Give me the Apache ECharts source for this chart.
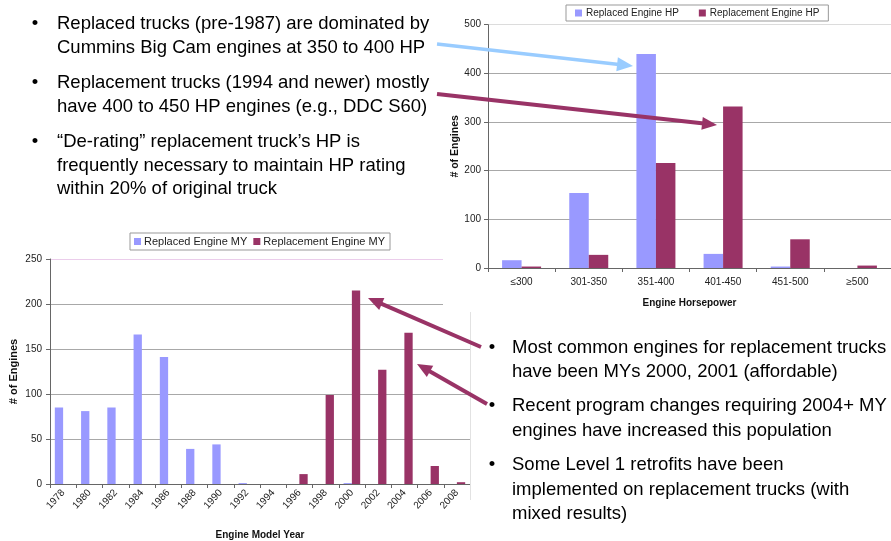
<!DOCTYPE html>
<html>
<head>
<meta charset="utf-8">
<script src="https://cdn.jsdelivr.net/npm/echarts@6/dist/echarts.min.js"></script>
<style>
html,body{margin:0;padding:0;background:#fff;}
#chart{width:891px;height:541px;}
</style>
</head>
<body>
<div id="chart"></div>
<script>
// ---- Data ----
const hpCategories = ['≤300', '301-350', '351-400', '401-450', '451-500', '≥500'];
const replacedHP = [16, 154, 440, 29, 3, 0];
const replacementHP = [3, 27, 216, 332, 59, 5];
const hpTicks = [0, 100, 200, 300, 400, 500];

const yearCategories = ['1978', '1980', '1982', '1984', '1986', '1988', '1990', '1992',
  '1994', '1996', '1998', '2000', '2002', '2004', '2006', '2008'];
const replacedMY = [85, 81, 85, 166, 141, 39, 44, 1, 0, 0, 0, 1, 0, 0, 0, 0];
const replacementMY = [0, 0, 0, 0, 0, 0, 0, 0, 0, 11, 99, 215, 127, 168, 20, 2];
const myTicks = [0, 50, 100, 150, 200, 250];

const bulletsTop = [
  ['Replaced trucks (pre-1987) are dominated by', 'Cummins Big Cam engines at 350 to 400 HP'],
  ['Replacement trucks (1994 and newer) mostly', 'have 400 to 450 HP engines (e.g., DDC S60)'],
  ['\u201cDe-rating\u201d replacement truck\u2019s HP is', 'frequently necessary to maintain HP rating', 'within 20% of original truck']
];
const bulletsBottom = [
  ['Most common engines for replacement trucks', 'have been MYs 2000, 2001 (affordable)'],
  ['Recent program changes requiring 2004+ MY', 'engines have increased this population'],
  ['Some Level 1 retrofits have been', 'implemented on replacement trucks (with', 'mixed results)']
];

// ---- Styles ----
const FONT = '"Liberation Sans", Arial, Helvetica, sans-serif';
const BLUE = '#9999FF';
const MAROON = '#993366';
const GRID = '#a8a8a8';

const chart = echarts.init(document.getElementById('chart'), null, {renderer: 'canvas'});

function arrow(x1, y1, x2, y2, color, w, hl, hw) {
  const dx = x2 - x1, dy = y2 - y1, L = Math.hypot(dx, dy);
  const ux = dx / L, uy = dy / L;
  const bx = x2 - ux * hl, by = y2 - uy * hl;
  const px = -uy, py = ux;
  return [
    {type: 'line', z: 20, shape: {x1: x1, y1: y1, x2: bx + ux * 2, y2: by + uy * 2},
      style: {stroke: color, lineWidth: w}},
    {type: 'polygon', z: 20, shape: {points: [[x2, y2], [bx + px * hw / 2, by + py * hw / 2], [bx - px * hw / 2, by - py * hw / 2]]},
      style: {fill: color}}
  ];
}

function bulletBlock(blocks, bx, tx, ys) {
  const els = [];
  let k = 0;
  blocks.forEach(lines => {
    lines.forEach((ln, i) => {
      const y = ys[k++];
      if (i === 0) {
        els.push({type: 'text', z: 20, x: bx, y: y,
          style: {text: '\u2022', font: '18.5px ' + FONT, fill: '#000', align: 'center', verticalAlign: 'middle'}});
      }
      els.push({type: 'text', z: 20, x: tx, y: y,
        style: {text: ln, font: '18.5px ' + FONT, fill: '#000', align: 'left', verticalAlign: 'middle'}});
    });
  });
  return els;
}

const graphics = [
  // background panel of the top chart (covers the lower chart's gridlines)
  {type: 'rect', z: 1, shape: {x: 443, y: 0, width: 448, height: 312}, style: {fill: '#fff'}},
  // right border of the lower chart
  {type: 'line', z: 1, shape: {x1: 470.5, y1: 312, x2: 470.5, y2: 500}, style: {stroke: '#e2e2e2', lineWidth: 1}},
  ...bulletBlock(bulletsTop, 35, 57, [24, 48, 83, 107, 142, 166, 189]),
  ...bulletBlock(bulletsBottom, 492, 512, [348, 372, 406, 431, 465, 490, 514]),
  ...arrow(437, 44, 633, 66, '#99CCFF', 3.5, 16, 14),
  ...arrow(437, 94, 717, 125, MAROON, 4, 15, 13),
  ...arrow(481, 347, 368, 298, MAROON, 4, 15, 13),
  ...arrow(487, 404, 417, 364, MAROON, 4, 15, 13)
];

const axisLabelStyle = {color: '#222', fontFamily: FONT, fontSize: 10};
const nameStyle = {color: '#111', fontFamily: FONT, fontSize: 10, fontWeight: 'bold'};

const option = {
  animation: false,
  backgroundColor: '#fff',
  textStyle: {fontFamily: FONT},
  grid: [
    {left: 488, right: -7, top: 24.7, bottom: 273, containLabel: false},
    {left: 50, right: 421, top: 259, bottom: 52, containLabel: false}
  ],
  legend: [
    {
      data: ['Replaced Engine HP', 'Replacement Engine HP'],
      left: 566, top: 5, orient: 'horizontal',
      padding: [3, 9, 3, 9], itemWidth: 7, itemHeight: 7, itemGap: 20,
      borderColor: '#999', borderWidth: 1, backgroundColor: '#fff',
      textStyle: {fontFamily: FONT, fontSize: 10, color: '#222', padding: [0, 0, 0, -1]},
      icon: 'rect', z: 6
    },
    {
      data: ['Replaced Engine MY', 'Replacement Engine MY'],
      left: 130, top: 233, orient: 'horizontal',
      padding: [3, 5, 3, 4], itemWidth: 7, itemHeight: 7, itemGap: 6,
      borderColor: '#999', borderWidth: 1, backgroundColor: '#fff',
      textStyle: {fontFamily: FONT, fontSize: 11, color: '#222', padding: [0, 0, 0, -2]},
      icon: 'rect'
    }
  ],
  xAxis: [
    {
      gridIndex: 0, type: 'category', data: hpCategories, z: 5,
      name: 'Engine Horsepower', nameLocation: 'middle', nameGap: 30, nameTextStyle: nameStyle,
      axisLine: {lineStyle: {color: '#666', width: 1}},
      axisTick: {show: true, length: 4, lineStyle: {color: '#666'}},
      axisLabel: Object.assign({margin: 9, interval: 0}, axisLabelStyle),
      splitLine: {show: false}
    },
    {
      gridIndex: 1, type: 'category', data: yearCategories, z: 0,
      name: 'Engine Model Year', nameLocation: 'middle', nameGap: 46, nameTextStyle: nameStyle,
      axisLine: {lineStyle: {color: '#666', width: 1}},
      axisTick: {show: true, length: 4, lineStyle: {color: '#666'}},
      axisLabel: Object.assign({margin: 7, interval: 0, rotate: 48}, axisLabelStyle),
      splitLine: {show: false}
    }
  ],
  yAxis: [
    {
      gridIndex: 0, type: 'value', min: hpTicks[0], max: hpTicks[hpTicks.length - 1], interval: 100, z: 5,
      name: '# of Engines', nameLocation: 'middle', nameGap: 21, nameTextStyle: Object.assign({}, nameStyle, {fontSize: 10.5}),
      axisLine: {show: true, lineStyle: {color: '#666', width: 1}},
      axisTick: {show: true, length: 4, lineStyle: {color: '#666'}},
      axisLabel: Object.assign({margin: 7}, axisLabelStyle),
      splitLine: {show: true, lineStyle: {color: [GRID, GRID, GRID, GRID, GRID, '#dcdcdc'], width: 1}}
    },
    {
      gridIndex: 1, type: 'value', min: myTicks[0], max: myTicks[myTicks.length - 1], interval: 50, z: 0,
      name: '# of Engines', nameLocation: 'middle', nameGap: 31, nameTextStyle: Object.assign({}, nameStyle, {fontSize: 11}),
      axisLine: {show: true, lineStyle: {color: '#666', width: 1}},
      axisTick: {show: true, length: 4, lineStyle: {color: '#666'}},
      axisLabel: Object.assign({margin: 8}, axisLabelStyle),
      splitLine: {show: true, lineStyle: {color: [GRID, GRID, GRID, GRID, GRID, '#ebcdeb'], width: 1}}
    }
  ],
  series: [
    {
      name: 'Replaced Engine HP', type: 'bar', xAxisIndex: 0, yAxisIndex: 0, z: 6,
      data: replacedHP, barWidth: 19.5, barGap: '0%',
      itemStyle: {color: BLUE}
    },
    {
      name: 'Replacement Engine HP', type: 'bar', xAxisIndex: 0, yAxisIndex: 0, z: 6,
      data: replacementHP, barWidth: 19.5, barGap: '0%',
      itemStyle: {color: MAROON}
    },
    {
      name: 'Replaced Engine MY', type: 'bar', xAxisIndex: 1, yAxisIndex: 1,
      data: replacedMY, barWidth: 8.3, barGap: '0%',
      itemStyle: {color: BLUE}
    },
    {
      name: 'Replacement Engine MY', type: 'bar', xAxisIndex: 1, yAxisIndex: 1,
      data: replacementMY, barWidth: 8.3, barGap: '0%',
      itemStyle: {color: MAROON}
    }
  ],
  graphic: {elements: graphics}
};

chart.setOption(option);
</script>
</body>
</html>
